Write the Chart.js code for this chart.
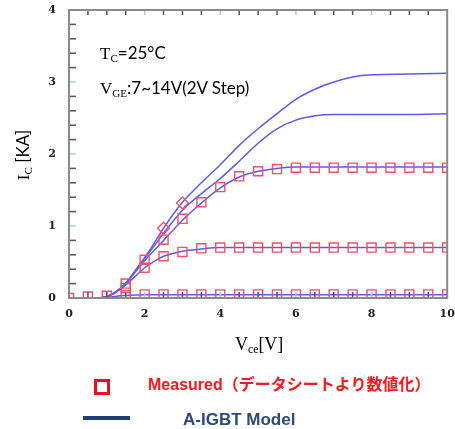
<!DOCTYPE html>
<html>
<head>
<meta charset="utf-8">
<script src="https://cdn.jsdelivr.net/npm/chart.js@4/dist/chart.umd.min.js"></script>
<style>
  html, body { margin:0; padding:0; background:#fff; }
  #wrap { position:relative; width:455px; height:429px; overflow:hidden; background:#fff; }
  #c { position:absolute; left:0; top:0; }
  .t { position:absolute; white-space:nowrap; line-height:1; }
  .serif { font-family:"Liberation Serif","DejaVu Serif",serif; }
  .sans { font-family:"Lato","Liberation Sans",sans-serif; }
  sub { font-size:65%; vertical-align:-0.25em; line-height:0; }
</style>
</head>
<body>
<div id="wrap">
  <canvas id="c" width="455" height="340"></canvas>
  <div class="t" style="left:100px;top:44px;font-size:17px;"><span class="serif">T<sub>C</sub></span><span class="sans">=25°C</span></div>
  <div class="t" style="left:100px;top:79px;font-size:17px;"><span class="serif">V<sub>GE</sub></span><span class="sans">:7~14V(2V Step)</span></div>
  <div class="t" style="left:-12px;top:146px;width:70px;text-align:center;font-size:17px;transform:rotate(-90deg);transform-origin:35px 9px;"><span class="serif">I<sub>C</sub></span><span class="sans"> [KA]</span></div>
  <div class="t serif" style="left:235px;top:335px;font-size:18px;">V<sub>ce</sub>[V]</div>
  <div style="position:absolute;left:94px;top:379px;width:10px;height:10px;border:3px solid #e8121c;"></div>
  <div class="t" style="left:148px;top:377px;font-size:16px;font-weight:bold;color:#ee1c25;font-family:'Liberation Sans','Noto Sans CJK JP',sans-serif;">Measured（データシートより数値化）</div>
  <div style="position:absolute;left:83px;top:416px;width:47px;height:4px;background:#1f3f7a;"></div>
  <div class="t" style="left:183px;top:411px;font-size:17px;font-weight:bold;color:#2b4a7a;font-family:'Liberation Sans',sans-serif;">A-IGBT Model</div>
</div>
<script>
// Model curves (A-IGBT Model), Vce grid
const modelVce = [0, 0.5, 0.8, 1, 1.25, 1.5, 1.75, 2, 2.25, 2.5, 3, 3.5, 4, 4.5, 5, 5.5, 6, 6.5, 7, 7.5, 8, 9, 10];
const model1 = [0, 0, 0, 0.01, 0.025, 0.035, 0.042, 0.045, 0.045, 0.045, 0.045, 0.045, 0.045, 0.045, 0.045, 0.045, 0.045, 0.045, 0.045, 0.045, 0.045, 0.045, 0.045];
const model2 = [0, 0, 0, 0.02, 0.08, 0.18, 0.3, 0.42, 0.51, 0.58, 0.65, 0.68, 0.7, 0.7, 0.7, 0.7, 0.7, 0.7, 0.7, 0.7, 0.7, 0.7, 0.7];
const model3 = [0, 0, 0, 0.02, 0.09, 0.2, 0.36, 0.52, 0.66, 0.8, 1.08, 1.32, 1.53, 1.68, 1.76, 1.8, 1.82, 1.82, 1.82, 1.82, 1.82, 1.82, 1.82];
const model4 = [0, 0, 0, 0.02, 0.09, 0.2, 0.37, 0.55, 0.72, 0.9, 1.22, 1.45, 1.66, 1.9, 2.15, 2.35, 2.47, 2.53, 2.55, 2.55, 2.55, 2.55, 2.56];
const model5 = [0, 0, 0, 0.02, 0.09, 0.21, 0.38, 0.56, 0.76, 0.97, 1.33, 1.6, 1.85, 2.12, 2.35, 2.56, 2.76, 2.9, 3.0, 3.07, 3.1, 3.11, 3.12];

// Measured points (datasheet digitized)
const measVce = [0, 0.5, 1, 1.5, 2, 2.5, 3, 3.5, 4, 4.5, 5, 5.5, 6, 6.5, 7, 7.5, 8, 8.5, 9, 9.5, 10];
const meas1 = [0.0, 0.02, 0.03, 0.04, 0.05, 0.05, 0.05, 0.05, 0.05, 0.05, 0.05, 0.05, 0.05, 0.05, 0.05, 0.05, 0.05, 0.05, 0.05, 0.05, 0.05];
const meas2 = [null, null, null, 0.14, 0.42, 0.58, 0.64, 0.69, 0.7, 0.7, 0.7, 0.7, 0.7, 0.7, 0.7, 0.7, 0.7, 0.7, 0.7, 0.7, 0.7];
const meas3 = [null, null, null, 0.2, 0.53, 0.81, 1.1, 1.33, 1.54, 1.69, 1.76, 1.79, 1.81, 1.81, 1.81, 1.81, 1.81, 1.81, 1.81, 1.81, 1.81];
const measHiVce = [2.5, 3];
const measHi = [0.97, 1.32];

const xTicks = [0, 2, 4, 6, 8, 10];
const yTicks = [0, 1, 2, 3, 4];

const pts = (xs, ys) => xs.map((x, i) => ({ x, y: ys[i] })).filter(p => p.y !== null);

const lineColor = '#5c5ce8';
const markColor = '#f0506a';
const lineDS = ys => ({ type:'scatter', data: pts(modelVce, ys), showLine:true, borderColor: lineColor, borderWidth:1.5,
  pointRadius:0, cubicInterpolationMode:'monotone', fill:false, order:2 });
const measDS = (xs, ys, style, r) => ({ type:'scatter', data: pts(xs, ys), showLine:false, pointStyle: style,
  pointRadius: r, borderColor: markColor, borderWidth:1.4, backgroundColor:'rgba(0,0,0,0)', order:1 });

const framePlugin = {
  id:'frame',
  afterDatasetsDraw(chart) {
    const { ctx, chartArea: a, scales: { x, y } } = chart;
    ctx.save();
    ctx.lineWidth = 1.5;
    for (let v = 0.5; v < 10; v += 0.5) {
      const px = x.getPixelForValue(v);
      const major = xTicks.includes(v);
      ctx.strokeStyle = major ? '#a8cce4' : '#555';
      ctx.beginPath(); ctx.moveTo(px, a.top); ctx.lineTo(px, a.top + 5); ctx.stroke();
      ctx.beginPath(); ctx.moveTo(px, a.bottom); ctx.lineTo(px, a.bottom - 6); ctx.stroke();
    }
    for (let i = 1; i < 20; i++) {
      const v = i * 0.2;
      const py = y.getPixelForValue(v);
      const major = i % 5 === 0;
      ctx.strokeStyle = major ? '#a8cce4' : '#555';
      ctx.beginPath(); ctx.moveTo(a.left, py); ctx.lineTo(a.left + 7, py); ctx.stroke();
    }
    ctx.strokeStyle = '#8a8a8a';
    ctx.lineWidth = 2;
    ctx.strokeRect(a.left, a.top, a.right - a.left, a.bottom - a.top);
    ctx.restore();
  }
};

const noPad = s => { s.paddingTop = 0; s.paddingBottom = 0; s.paddingLeft = 0; s.paddingRight = 0; };

new Chart(document.getElementById('c'), {
  type:'scatter',
  data: {
    datasets: [
      lineDS(model1), lineDS(model2), lineDS(model3), lineDS(model4), lineDS(model5),
      measDS(measVce, meas1, 'rect', 6.4), measDS(measVce, meas2, 'rect', 6.4), measDS(measVce, meas3, 'rect', 6.4),
      measDS(measHiVce, measHi, 'rectRot', 6)
    ]
  },
  options: {
    responsive:false, animation:false, devicePixelRatio:1,
    layout: { padding: { top:10, right:7, left:0, bottom:0 } },
    plugins: { legend:{ display:false }, tooltip:{ enabled:false } },
    scales: {
      x: { type:'linear', min:0, max:10,
        afterBuildTicks: s => { s.ticks = xTicks.map(v => ({ value:v })); },
        afterFit: s => { s.height = 42; noPad(s); },
        grid:{ display:false, drawTicks:false }, border:{ display:false },
        ticks:{ padding:10, color:'#222', font:{ family:'DejaVu Serif', weight:'bold', size:11 } } },
      y: { type:'linear', min:0, max:4,
        afterBuildTicks: s => { s.ticks = yTicks.map(v => ({ value:v })); },
        afterFit: s => { s.width = 69; noPad(s); },
        grid:{ display:false, drawTicks:false }, border:{ display:false },
        ticks:{ padding:13, color:'#222', font:{ family:'DejaVu Serif', weight:'bold', size:11 } } }
    }
  },
  plugins:[framePlugin]
});
</script>
</body>
</html>
